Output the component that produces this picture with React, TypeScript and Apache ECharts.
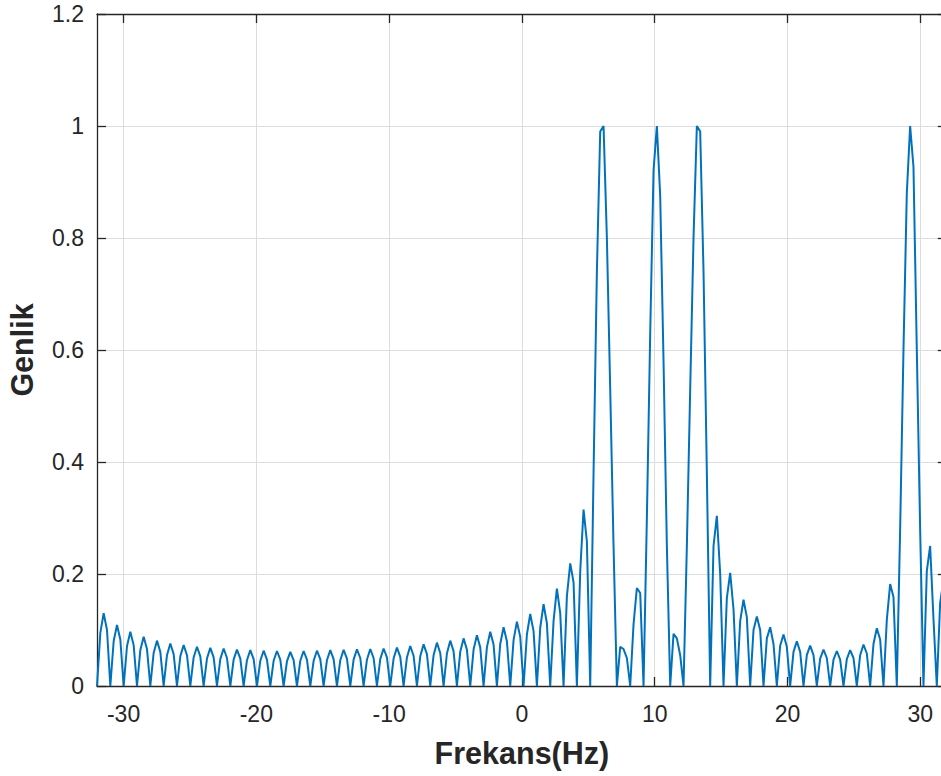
import React, { useEffect, useRef } from "react";
import * as echarts from "echarts";

// Frequency axis range (the spectrum is sampled uniformly between these limits)
const FREQ_MIN = -32;
const FREQ_MAX = 32;

// Magnitude spectrum (256 samples, 4 per side-lobe)
const AMPLITUDE = [
  0, 0.095, 0.130, 0.100,
  0, 0.080, 0.109, 0.083,
  0, 0.071, 0.097, 0.073,
  0, 0.064, 0.088, 0.066,
  0, 0.059, 0.081, 0.061,
  0, 0.055, 0.076, 0.057,
  0, 0.053, 0.073, 0.055,
  0, 0.051, 0.070, 0.053,
  0, 0.049, 0.068, 0.051,
  0, 0.048, 0.067, 0.050,
  0, 0.047, 0.065, 0.049,
  0, 0.046, 0.064, 0.048,
  0, 0.045, 0.063, 0.047,
  0, 0.045, 0.0625, 0.047,
  0, 0.044, 0.061, 0.046,
  0, 0.045, 0.0625, 0.047,
  0, 0.045, 0.063, 0.048,
  0, 0.046, 0.064, 0.048,
  0, 0.046, 0.0645, 0.049,
  0, 0.047, 0.0655, 0.050,
  0, 0.047, 0.066, 0.050,
  0, 0.048, 0.067, 0.051,
  0, 0.049, 0.0685, 0.052,
  0, 0.051, 0.0714, 0.054,
  0, 0.053, 0.0744, 0.057,
  0, 0.055, 0.0774, 0.059,
  0, 0.058, 0.081, 0.062,
  0, 0.061, 0.085, 0.065,
  0, 0.065, 0.0905, 0.069,
  0, 0.069, 0.097, 0.074,
  0, 0.075, 0.105, 0.080,
  0, 0.082, 0.115, 0.088,
  0, 0.092, 0.1286, 0.098,
  0, 0.104, 0.146, 0.112,
  0, 0.116, 0.174, 0.130,
  0, 0.160, 0.219, 0.185,
  0, 0.205, 0.315, 0.258,
  0, 0.38, 0.74, 0.99,
  1.0, 0.80, 0.53, 0.25,
  0, 0.070, 0.066, 0.050,
  0, 0.110, 0.175, 0.166,
  0, 0.30, 0.63, 0.92,
  1.0, 0.875, 0.58, 0.25,
  0, 0.093, 0.085, 0.055,
  0, 0.25, 0.53, 0.80,
  1.0, 0.99, 0.74, 0.38,
  0, 0.25, 0.304, 0.20,
  0, 0.157, 0.202, 0.137,
  0, 0.116, 0.154, 0.123,
  0, 0.100, 0.124, 0.100,
  0, 0.085, 0.105, 0.075,
  0, 0.072, 0.092, 0.070,
  0, 0.061, 0.080, 0.061,
  0, 0.055, 0.072, 0.055,
  0, 0.049, 0.065, 0.050,
  0, 0.047, 0.0625, 0.047,
  0, 0.048, 0.064, 0.050,
  0, 0.055, 0.074, 0.058,
  0, 0.075, 0.103, 0.083,
  0, 0.118, 0.182, 0.159,
  0, 0.28, 0.60, 0.88,
  1.0, 0.927, 0.60, 0.28,
  0, 0.205, 0.25, 0.12,
  0, 0.148, 0.19, 0.14,
];

const X_TICKS = [-30, -20, -10, 0, 10, 20, 30];
const Y_MIN = 0;
const Y_MAX = 1.2;
const Y_STEP = 0.2;
const X_NAME = "Frekans(Hz)";
const Y_NAME = "Genlik";

export default function App() {
  const ref = useRef<HTMLDivElement>(null);

  useEffect(() => {
    if (!ref.current) return;
    const chart = echarts.init(ref.current, null, { renderer: "svg" });
    const n = AMPLITUDE.length;
    const data = AMPLITUDE.map((v, i) => [
      FREQ_MIN + (i * (FREQ_MAX - FREQ_MIN)) / (n - 1),
      v,
    ]);
    const axisColor = "#262626";
    const font = "'Liberation Sans', Arial, Helvetica, sans-serif";
    const axisLine = {
      show: true,
      onZero: false,
      lineStyle: { color: axisColor, width: 1.3 },
    };
    const tick = {
      show: true,
      inside: true,
      length: 9,
      lineStyle: { color: axisColor, width: 1.3 },
    };
    const gridLine = { show: true, lineStyle: { color: "#dcdcdc", width: 1 } };
    const nameStyle = {
      fontSize: 30.5,
      fontWeight: "bold",
      color: axisColor,
      fontFamily: font,
    };

    chart.setOption({
      animation: false,
      backgroundColor: "#ffffff",
      grid: {
        left: 97,
        top: 14,
        width: 849.8,
        height: 672,
        containLabel: false,
        outerBoundsMode: "none",
      },
      xAxis: [
        {
          type: "value",
          position: "bottom",
          min: FREQ_MIN,
          max: FREQ_MAX,
          axisLine,
          axisTick: { ...tick, customValues: X_TICKS },
          axisLabel: {
            show: true,
            customValues: X_TICKS,
            margin: 16,
            fontSize: 23,
            color: axisColor,
            fontFamily: font,
          },
          splitLine: gridLine,
          name: X_NAME,
          nameLocation: "middle",
          nameGap: 51,
          nameMoveOverlap: false,
          nameTextStyle: nameStyle,
        },
        {
          type: "value",
          position: "top",
          min: FREQ_MIN,
          max: FREQ_MAX,
          axisLine,
          axisTick: { ...tick, customValues: X_TICKS },
          axisLabel: { show: false, customValues: X_TICKS },
          splitLine: { show: false },
        },
      ],
      yAxis: [
        {
          type: "value",
          position: "left",
          min: Y_MIN,
          max: Y_MAX,
          interval: Y_STEP,
          axisLine,
          axisTick: tick,
          axisLabel: {
            show: true,
            margin: 13,
            fontSize: 23,
            color: axisColor,
            fontFamily: font,
            padding: [5, 0, 0, 0],
          },
          splitLine: gridLine,
          name: Y_NAME,
          nameLocation: "middle",
          nameGap: 60,
          nameMoveOverlap: false,
          nameTextStyle: nameStyle,
        },
        {
          type: "value",
          position: "right",
          min: Y_MIN,
          max: Y_MAX,
          interval: Y_STEP,
          axisLine,
          axisTick: tick,
          axisLabel: { show: false },
          splitLine: { show: false },
        },
      ],
      series: [
        {
          type: "line",
          xAxisIndex: 0,
          yAxisIndex: 0,
          data,
          showSymbol: false,
          symbol: "none",
          clip: true,
          lineStyle: { color: "#0072BD", width: 2 },
          z: 3,
        },
      ],
    });
    return () => chart.dispose();
  }, []);

  return (
    <div
      style={{
        position: "absolute",
        left: 0,
        top: 0,
        width: 941,
        height: 776,
        overflow: "hidden",
        background: "#ffffff",
      }}
    >
      <div ref={ref} style={{ width: 960, height: 776 }} />
    </div>
  );
}
